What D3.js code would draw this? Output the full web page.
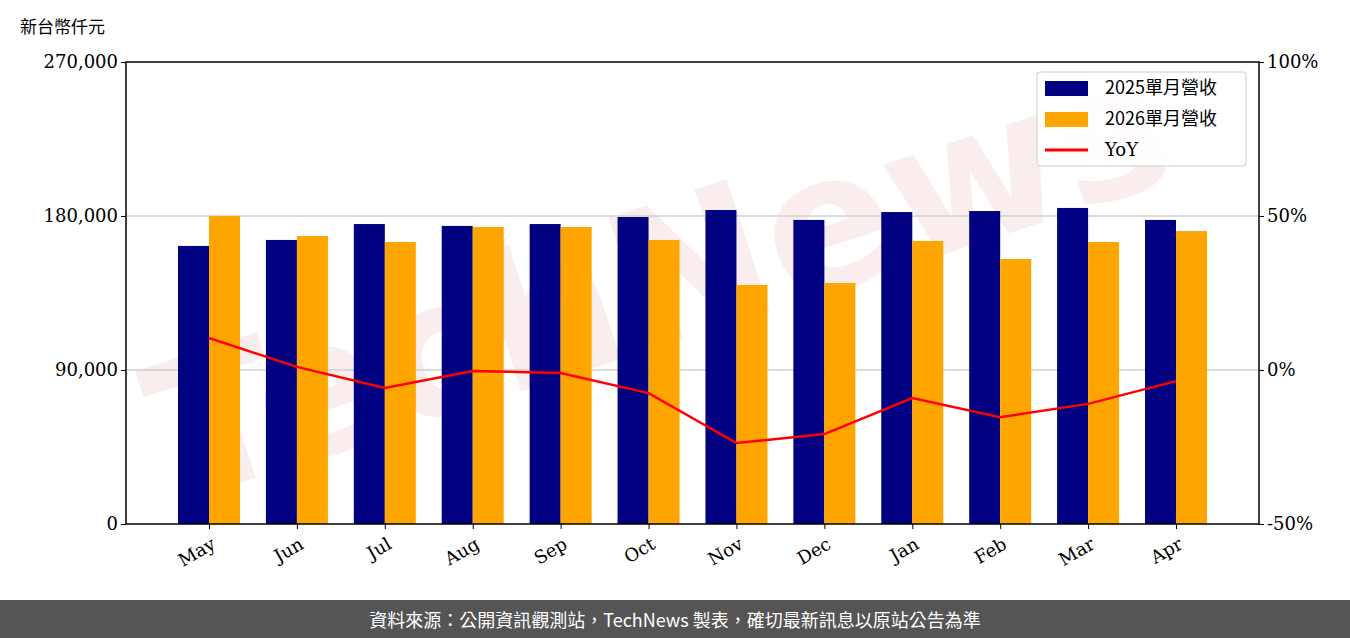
<!DOCTYPE html>
<html><head><meta charset="utf-8">
<script src="https://cdn.jsdelivr.net/npm/d3@7"></script>
<style>body{margin:0;background:#fff}svg{display:block}</style>
</head><body><svg id="c" width="1350" height="638"></svg>
<script>
const months=["May","Jun","Jul","Aug","Sep","Oct","Nov","Dec","Jan","Feb","Mar","Apr"];
const rev2025=[162500,166000,175300,174200,175300,179400,183500,177700,182300,182900,184700,177700];
const rev2026=[180000,168300,164800,173600,173600,166000,139700,140800,165400,154900,164800,171200];
const yoy=[10.4,1.0,-5.8,-0.3,-1.0,-7.5,-23.7,-20.8,-9.1,-15.3,-11.0,-3.6];
const leftTicks=[0,90000,180000,270000];
const rightTicks=[-50,0,50,100];
const L=126,R=1259,T=62,B=524;
const svg=d3.select("#c");
const serif="'DejaVu Serif','Liberation Serif',serif";
const cjk="'Noto Sans CJK TC','Noto Sans',sans-serif";
const x=d3.scalePoint().domain(months).range([209,1176]);
const y=d3.scaleLinear().domain([0,270000]).range([B,T]);
const y2=d3.scaleLinear().domain([-50,100]).range([B,T]);
const bw=31;
svg.append("text").attr("x",680).attr("y",340).attr("transform","rotate(-18,680,340)")
 .attr("text-anchor","middle").attr("font-family","'DejaVu Sans',sans-serif").attr("font-weight","bold")
 .attr("font-size",190).attr("fill","#e8a0a0").attr("opacity",0.18).text("TechNews");
svg.selectAll(".g").data([90000,180000]).enter().append("line")
 .attr("x1",L).attr("x2",R).attr("y1",d=>y(d)).attr("y2",d=>y(d)).attr("stroke","#d0d0d0").attr("stroke-width",1.5);
svg.selectAll(".b1").data(months).enter().append("rect")
 .attr("x",d=>x(d)-bw).attr("width",bw).attr("y",(d,i)=>y(rev2025[i])).attr("height",(d,i)=>B-y(rev2025[i])).attr("fill","#000080");
svg.selectAll(".b2").data(months).enter().append("rect")
 .attr("x",d=>x(d)).attr("width",bw).attr("y",(d,i)=>y(rev2026[i])).attr("height",(d,i)=>B-y(rev2026[i])).attr("fill","#FFA500");
svg.append("path").datum(yoy).attr("fill","none").attr("stroke","#ff0000").attr("stroke-width",2.5)
 .attr("d",d3.line().x((d,i)=>x(months[i])).y(d=>y2(d)));
svg.append("rect").attr("x",L).attr("y",T).attr("width",R-L).attr("height",B-T).attr("fill","none").attr("stroke","#000").attr("stroke-width",1.5);
const ax=svg.append("g").attr("transform",`translate(0,${B})`).call(d3.axisBottom(x).tickSize(5));
ax.select(".domain").remove();
ax.selectAll("text").attr("font-family",serif).attr("font-size",18).attr("fill","#000")
 .attr("text-anchor","end").attr("transform","rotate(-30)").attr("dx","-0.3em").attr("dy","0.9em");
const ay=svg.append("g").attr("transform",`translate(${L},0)`).call(d3.axisLeft(y).tickValues(leftTicks).tickFormat(d3.format(",")).tickSize(5));
ay.select(".domain").remove();
ay.selectAll("text").attr("font-family",serif).attr("font-size",18).attr("fill","#000");
const ay2=svg.append("g").attr("transform",`translate(${R},0)`).call(d3.axisRight(y2).tickValues(rightTicks).tickFormat(d=>d+"%").tickSize(5));
ay2.select(".domain").remove();
ay2.selectAll("text").attr("font-family",serif).attr("font-size",18).attr("fill","#000");
svg.append("text").attr("x",20).attr("y",33).attr("font-family",cjk).attr("font-size",17).text("新台幣仟元");
const lg=svg.append("g");
lg.append("rect").attr("x",1037).attr("y",72).attr("width",209).attr("height",94).attr("rx",3).attr("fill","#fff").attr("fill-opacity",0.85).attr("stroke","#ccc");
const items=[["2025單月營收","#000080","r"],["2026單月營收","#FFA500","r"],["YoY","#ff0000","l"]];
items.forEach((it,i)=>{const cy=88+i*31;
 if(it[2]=="r") lg.append("rect").attr("x",1045).attr("y",cy-7).attr("width",43).attr("height",15).attr("fill",it[1]);
 else lg.append("line").attr("x1",1045).attr("x2",1088).attr("y1",cy).attr("y2",cy).attr("stroke",it[1]).attr("stroke-width",3);
 lg.append("text").attr("x",1105).attr("y",cy+6).attr("font-family",i<2?cjk:serif).attr("font-size",18).text(it[0]);});
svg.append("rect").attr("x",0).attr("y",600).attr("width",1350).attr("height",38).attr("fill","#555");
svg.append("text").attr("x",675).attr("y",627).attr("text-anchor","middle").attr("fill","#fff").attr("font-family",cjk).attr("font-size",18)
 .text("資料來源：公開資訊觀測站，TechNews 製表，確切最新訊息以原站公告為準");
</script></body></html>
